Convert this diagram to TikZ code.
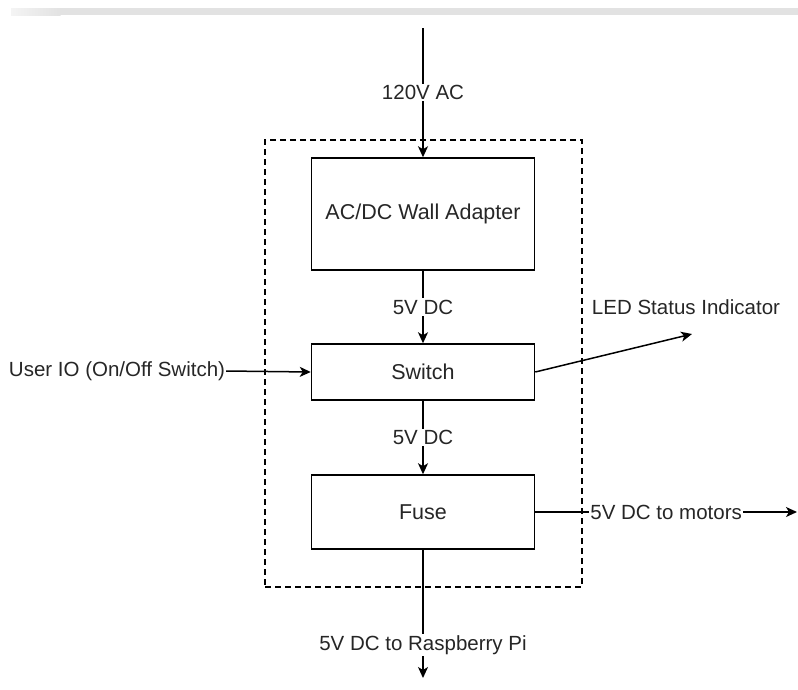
\documentclass[tikz,border=0pt]{standalone}
\usepackage{fontspec}
\setmainfont{Liberation Sans}
\usetikzlibrary{arrows.meta}
\definecolor{txt}{HTML}{262626}
\definecolor{barc}{HTML}{E2E2E2}
\definecolor{barl}{HTML}{F4F4F4}
\begin{document}
\begin{tikzpicture}[x=1pt,y=-1pt,
  box/.style={draw, line width=1.5pt, minimum width=223pt, inner sep=0pt, text=txt, font=\fontsize{21.5}{25}\selectfont},
  lbl/.style={fill=white, inner sep=1.5pt, text=txt, font=\fontsize{20.5}{24}\selectfont},
  free/.style={inner sep=1pt, text=txt, font=\fontsize{20.5}{24}\selectfont},
  conn/.style={line width=1.5pt, -{Stealth[length=11pt,width=10pt,inset=3pt]}},
  grp/.style={draw, line width=1.3pt, dash pattern=on 6pt off 4pt},
]
\useasboundingbox (0,0) rectangle (798,689);
% top bar
\fill[barc] (60,8) rectangle (798,15);
\shade[left color=barl, right color=barc] (11,8) rectangle (60.5,15);
% group
\node[grp, minimum width=317pt, minimum height=447pt, inner sep=0pt] (grp) at (423.5,363.5) {};
% boxes
\node[box, minimum height=112pt] (ad) at (423,214) {AC/DC Wall Adapter};
\node[box, minimum height=56pt] (sw) at (423,372) {Switch};
\node[box, minimum height=74pt] (fu) at (423,512) {Fuse};
% free texts
\node[free] (user) at (117,371) {User IO (On/Off Switch)};
\node[free] (led) at (686,307) {LED Status Indicator};
% coordinates
\coordinate (top) at (423,28);
\coordinate (ledtip) at (692,334);
\coordinate (mot) at (797,512);
\coordinate (rpi) at (423,678);
% connectors
\draw[conn] (top) -- (ad.north);
\draw[conn] (ad.south) -- (sw.north);
\draw[conn] (sw.south) -- (fu.north);
\draw[conn] (user.east) -- (sw.west);
\draw[conn] (sw.east) -- (ledtip);
\draw[conn] (fu.east) -- (mot);
\draw[conn] (fu.south) -- (rpi);
% connector labels (drawn on top)
\path (top) -- node[lbl]{120V AC} (ad.north);
\path (ad.south) -- node[lbl]{5V DC} (sw.north);
\path (sw.south) -- node[lbl]{5V DC} (fu.north);
\path (fu.east) -- node[lbl]{5V DC to motors} (mot);
\path (fu.south) -- node[lbl, pos=0.745]{5V DC to Raspberry Pi} (rpi);
\end{tikzpicture}
\end{document}
